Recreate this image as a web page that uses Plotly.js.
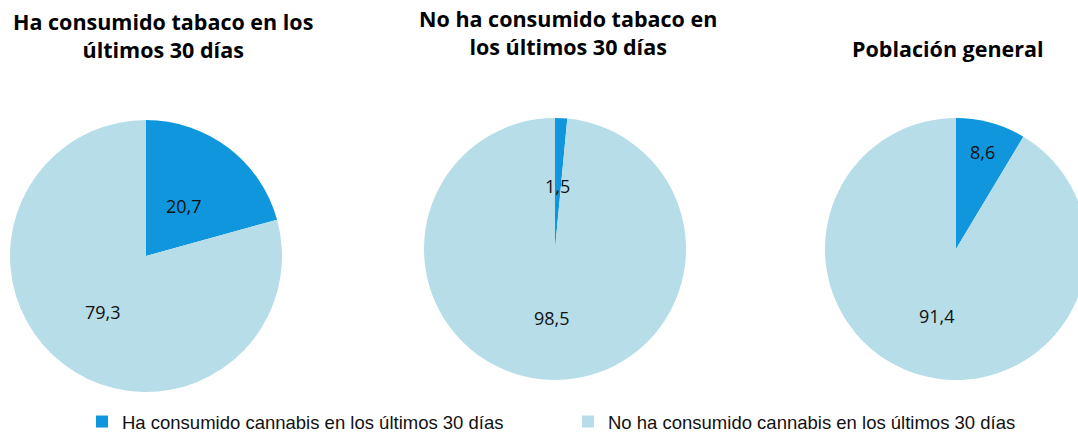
<!DOCTYPE html>
<html>
<head>
<meta charset="utf-8">
<script src="https://cdn.plot.ly/plotly-3.0.1.min.js"></script>
<style>
html,body{margin:0;padding:0;overflow:hidden;background:#fff;}
#chart{width:1100px;height:441px;}
</style>
</head>
<body>
<div id="chart"></div>
<script>
// ---- data ----
var categories = ["Ha consumido cannabis en los últimos 30 días", "No ha consumido cannabis en los últimos 30 días"];
var groupTitles = ["Ha consumido tabaco en los<br>últimos 30 días", "No ha consumido tabaco en<br>los últimos 30 días", "Población general"];
var tabacoSi = [20.7, 79.3];
var tabacoNo = [1.5, 98.5];
var poblacionGeneral = [8.6, 91.4];

// ---- style / layout ----
var seriesValues = [tabacoSi, tabacoNo, poblacionGeneral];
var colors = ["#0f96dc", "#b7dee8"];
var W = 1100, H = 441;
var pieGeom = [ {cx:146, cy:256, r:136}, {cx:555, cy:249, r:131}, {cx:956, cy:249, r:131} ];
var labelFrac = [[0.46,0.52],[0.48,0.53],[0.77,0.53]];
var titlePos = [ {x:163, y:36}, {x:568, y:32}, {x:948, y:48} ];

var traces = [];
var annotations = [];
seriesValues.forEach(function(vals, i){
  var g = pieGeom[i];
  traces.push({
    type:'pie',
    labels: categories,
    values: vals,
    sort:false,
    direction:'clockwise',
    rotation:0,
    textinfo:'none',
    hoverinfo:'label+value',
    marker:{colors:colors, line:{width:0}},
    domain:{x:[(g.cx-g.r)/W,(g.cx+g.r)/W], y:[(H-g.cy-g.r)/H,(H-g.cy+g.r)/H]},
    showlegend: i===0
  });
  var total = vals.reduce(function(a,b){return a+b;},0);
  var cum = 0;
  vals.forEach(function(v, j){
    var mid = (cum + v/2)/total*2*Math.PI;
    cum += v;
    var d = labelFrac[i][j]*g.r;
    var px = g.cx + d*Math.sin(mid);
    var py = g.cy - d*Math.cos(mid);
    annotations.push({
      xref:'paper', yref:'paper', x:px/W, y:(H-py)/H,
      xanchor:'center', yanchor:'middle', showarrow:false,
      text: v.toFixed(1).replace('.', ','),
      font:{family:'"Open Sans", "Noto Sans", sans-serif', size:18, color:'#111'}
    });
  });
  annotations.push({
    xref:'paper', yref:'paper', x:titlePos[i].x/W, y:(H-titlePos[i].y)/H,
    xanchor:'center', yanchor:'middle', showarrow:false, align:'center',
    text:'<b>'+groupTitles[i]+'</b>',
    font:{family:'"Open Sans", "Noto Sans", sans-serif', size:21.5, color:'#000'}
  });
});

var layout = {
  width:W, height:H,
  margin:{l:0,r:0,t:0,b:0},
  paper_bgcolor:'#fff',
  showlegend:true,
  legend:{orientation:'h', x:82/W, y:0, xanchor:'left', yanchor:'bottom',
          font:{family:'"Liberation Sans", Arial, sans-serif', size:18.5, color:'#111'},
          entrywidth:441, entrywidthmode:'pixels', itemwidth:30, bgcolor:'rgba(0,0,0,0)'},
  annotations:annotations
};

Plotly.newPlot('chart', traces, layout, {displayModeBar:false, staticPlot:true});
</script>
</body>
</html>
